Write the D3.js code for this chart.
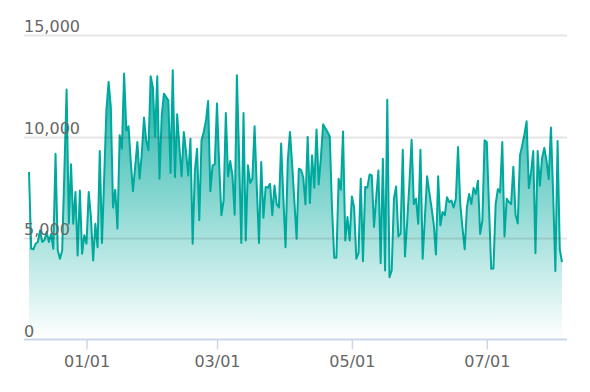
<!DOCTYPE html>
<html>
<head>
<meta charset="utf-8">
<title>Daily area</title>
<script src="https://cdn.jsdelivr.net/npm/d3@7/dist/d3.min.js"></script>
<style>
  body { margin: 0; background: #fff; }
  text { font-family: "DejaVu Sans", sans-serif; }
</style>
</head>
<body>
<div id="chart"></div>
<script>

// one value per day, starting at startDay
var startDay = "2022-12-06";
var values = [
  8250, 4470, 4440, 4720, 4800, 5370, 4800, 4900, 5300, 4800, 5200, 4470, 9150, 4390, 3980, 4390,
  8300, 12310, 5700, 8630, 5700, 7260, 4140, 7340, 4220, 5130, 4720, 7260, 6030, 3890, 5700, 4550,
  9280, 4750, 8000, 11300, 12690, 11450, 6500, 7380, 5460, 10060, 9400, 13100, 10300, 10500,
  8800, 7310, 8500, 9730, 7920, 9150, 10930, 9800, 9320, 12970, 12440, 10000, 12970, 7920, 10990, 12110,
  11950, 11780, 8200, 13260, 8000, 11090, 9480, 8040, 10220, 9240, 8080, 9890, 4720, 8330, 9400, 5870,
  9810, 10220, 10760, 11750, 7310, 8580, 8630, 11620, 8580, 6120, 6850, 11160, 8040, 8790, 8080, 6150,
  13015, 9000, 4750, 11160, 4880, 8580, 7710, 7920, 10500, 7500, 4750, 8740, 6000, 7510, 7480, 7670,
  6120, 7590, 6660, 6500, 9650, 7000, 4550, 8820, 10220, 8600, 6800, 4960, 8410, 8360, 7990, 6660,
  9980, 6720, 9070, 7480, 10350, 7640, 9000, 10600, 10400, 10220, 10000, 6500, 4030, 4030, 7920, 7380,
  10250, 4880, 6030, 4880, 7050, 6500, 3980, 4250, 7920, 3850, 7510, 7480, 8130, 8080, 5540, 7000,
  8330, 3760, 8900, 3400, 11810, 3070, 3400, 6935, 7540, 5080, 5210, 9350, 4090, 5800, 7700, 9840,
  6670, 6935, 5700, 9350, 3980, 6000, 8040, 7260, 6500, 5700, 4190, 8040, 5620, 6280, 6120, 7010,
  6770, 6850, 6500, 6935, 9480, 6670, 5500, 4440, 6500, 7170, 6670, 7460, 7170, 7820, 5200, 5860,
  9810, 9730, 6500, 3480, 3500, 6670, 7410, 7250, 9730, 5080, 6935, 6770, 6670, 8510, 6150, 5720,
  9070, 9560, 10100, 10750, 7460, 8230, 9280, 4250, 9280, 7580, 8940, 9440, 8810, 7900, 10440, 7170,
  3370, 9780, 4440, 3810
];
var yTicks = [0, 5000, 10000, 15000];
var xTicks = ["2023-01-01", "2023-03-01", "2023-05-01", "2023-07-01"];

var width = 590,
    height = 392;

var parse = d3.timeParse("%Y-%m-%d");
var t0 = parse(startDay);
var data = values.map(function(v, i) {
  return {date: d3.timeDay.offset(t0, i), value: v};
});

var x = d3.scaleTime()
    .domain(d3.extent(data, function(d) { return d.date; }))
    .range([29, 562]);
var y = d3.scaleLinear()
    .domain([0, 15000])
    .range([339.5, 35]);

var svg = d3.select("#chart").append("svg")
    .attr("width", width)
    .attr("height", height);

// fill gradient, teal fading to white
var grad = svg.append("defs").append("linearGradient")
    .attr("id", "fade")
    .attr("gradientUnits", "userSpaceOnUse")
    .attr("x1", 0).attr("x2", 0)
    .attr("y1", y(d3.max(values))).attr("y2", y(0));
grad.append("stop").attr("offset", 0).attr("stop-color", "#00a99d").attr("stop-opacity", 0.9);
grad.append("stop").attr("offset", 1).attr("stop-color", "#00a99d").attr("stop-opacity", 0);

var area = d3.area()
    .x(function(d) { return x(d.date); })
    .y0(y(0))
    .y1(function(d) { return y(d.value); });

var line = d3.line()
    .x(function(d) { return x(d.date); })
    .y(function(d) { return y(d.value); });

svg.append("path")
    .datum(data)
    .attr("d", area)
    .attr("fill", "url(#fade)");

svg.append("path")
    .datum(data)
    .attr("d", line)
    .attr("fill", "none")
    .attr("stroke", "#00a99d")
    .attr("stroke-width", 2)
    .attr("stroke-linejoin", "round");

// grid lines (over the fill) and y labels
var grid = svg.append("g");
grid.selectAll("line")
    .data(yTicks.filter(function(t) { return t > 0; }))
    .enter().append("line")
    .attr("x1", 24).attr("x2", 567)
    .attr("y1", function(d) { return Math.round(y(d)) + 0.5; })
    .attr("y2", function(d) { return Math.round(y(d)) + 0.5; })
    .attr("stroke", "rgba(0,0,0,0.1)")
    .attr("stroke-width", 2);

grid.selectAll("text")
    .data(yTicks)
    .enter().append("text")
    .attr("x", 24)
    .attr("y", function(d) { return y(d) - 3; })
    .attr("fill", "#666")
    .style("font-size", "16px")
    .text(d3.format(","));

// x axis
var xAxis = d3.axisBottom(x)
    .tickValues(xTicks.map(parse))
    .tickFormat(d3.timeFormat("%m/%d"))
    .tickSize(10)
    .tickPadding(6);

var gx = svg.append("g")
    .attr("transform", "translate(0," + 339.5 + ")")
    .call(xAxis);
gx.select(".domain").remove();
gx.append("line")
    .attr("x1", 24).attr("x2", 567)
    .attr("stroke", "#ccd6eb")
    .attr("stroke-width", 2);
gx.selectAll(".tick line")
    .attr("stroke", "#ccd6eb")
    .attr("stroke-width", 1.5);
gx.selectAll(".tick text")
    .attr("fill", "#666")
    .style("font-size", "16px")
    .style("font-family", "DejaVu Sans, sans-serif");

</script>
</body>
</html>
